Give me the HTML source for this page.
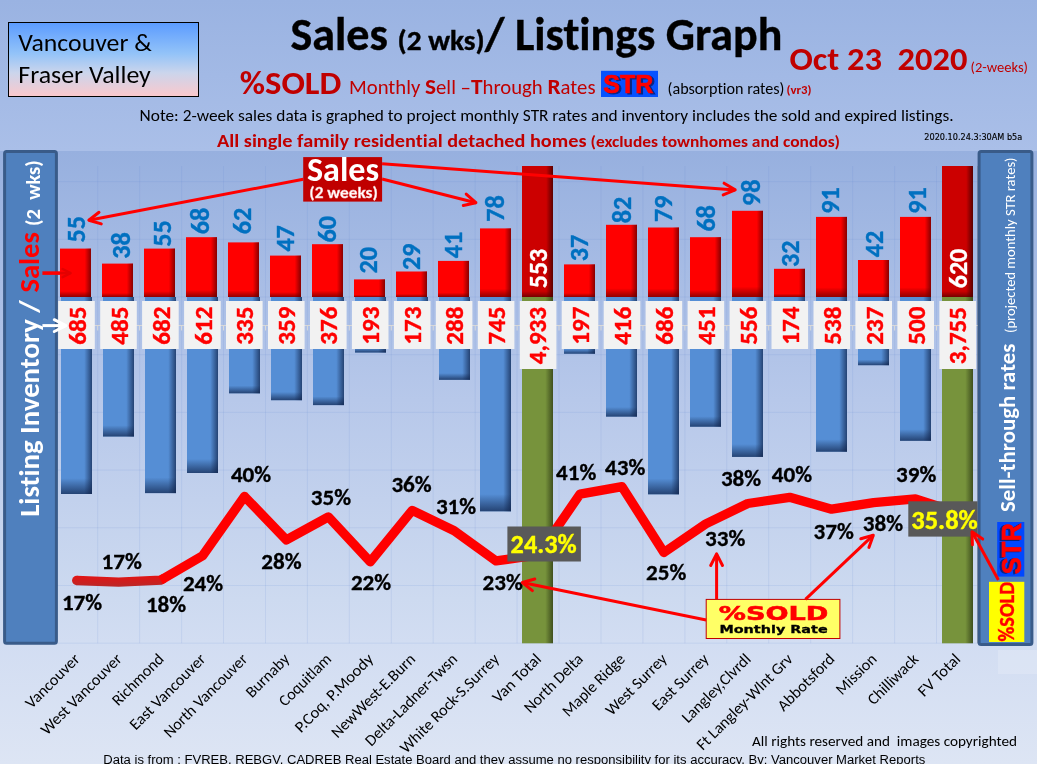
<!DOCTYPE html>
<html><head><meta charset="utf-8"><title>Sales / Listings Graph</title>
<style>
html,body{margin:0;padding:0;background:#9db6e4;}
svg{display:block;}
text{font-variant-ligatures:none;font-feature-settings:'liga' 0,'clig' 0;}
.gl{stroke:#5b84cf;stroke-opacity:0.13;stroke-width:1;}
.il{font-family:Carlito, "Liberation Sans", sans-serif;font-weight:700;font-size:25px;fill:#ff0000;stroke:#ff0000;stroke-width:0.4px;text-anchor:middle;}
.sl{font-family:Carlito, "Liberation Sans", sans-serif;font-weight:700;font-size:26px;fill:#0070c0;stroke:#0070c0;stroke-width:0.4px;}
.tl{font-family:Carlito, "Liberation Sans", sans-serif;font-weight:700;font-size:26px;fill:#ffffff;stroke:#ffffff;stroke-width:0.3px;}
.pl{font-family:Carlito, "Liberation Sans", sans-serif;font-weight:700;font-size:22px;fill:#000;stroke:#000;stroke-width:0.3px;}
.hl{font-family:Carlito, "Liberation Sans", sans-serif;font-weight:700;font-size:25.5px;fill:#ffff00;stroke:#ffff00;stroke-width:0.4px;}
</style></head>
<body>
<svg width="1037" height="764" viewBox="0 0 1037 764">
<defs>
<linearGradient id="gpage" x1="0" y1="0" x2="0" y2="151" gradientUnits="userSpaceOnUse">
 <stop offset="0" stop-color="#9ab3e2"/><stop offset="1" stop-color="#aabfe8"/>
</linearGradient>
<linearGradient id="gbg" x1="0" y1="0" x2="0" y2="1">
 <stop offset="0" stop-color="#97b0df"/><stop offset="0.406" stop-color="#b7c8ea"/><stop offset="0.732" stop-color="#cddaf0"/><stop offset="0.803" stop-color="#d2ddf2"/><stop offset="1" stop-color="#dde5f4"/>
</linearGradient>
<linearGradient id="gredR" x1="0" y1="0" x2="1" y2="0">
 <stop offset="0.8" stop-color="#600000" stop-opacity="0"/><stop offset="1" stop-color="#600000" stop-opacity="0.75"/>
</linearGradient>
<linearGradient id="gredB" x1="0" y1="1" x2="0" y2="0" gradientUnits="objectBoundingBox">
 <stop offset="0" stop-color="#600000" stop-opacity="0.7"/><stop offset="0.12" stop-color="#600000" stop-opacity="0"/>
</linearGradient>
<linearGradient id="gblueR" x1="0" y1="0" x2="1" y2="0">
 <stop offset="0.75" stop-color="#10234a" stop-opacity="0"/><stop offset="1" stop-color="#10234a" stop-opacity="0.7"/>
</linearGradient>
<linearGradient id="gblueB" x1="0" y1="1" x2="0" y2="0">
 <stop offset="0" stop-color="#10234a" stop-opacity="0.7"/><stop offset="0.08" stop-color="#10234a" stop-opacity="0"/>
</linearGradient>
<linearGradient id="gtotB" x1="0" y1="1" x2="0" y2="0">
 <stop offset="0" stop-color="#500000" stop-opacity="0.7"/><stop offset="0.045" stop-color="#500000" stop-opacity="0"/>
</linearGradient>
<linearGradient id="ggreen" x1="0" y1="0" x2="1" y2="0">
 <stop offset="0" stop-color="#77933c"/><stop offset="0.75" stop-color="#77933c"/><stop offset="1" stop-color="#3f4f1e"/>
</linearGradient>
<linearGradient id="gdred" x1="0" y1="0" x2="1" y2="0">
 <stop offset="0" stop-color="#cc0000"/><stop offset="0.78" stop-color="#cc0000"/><stop offset="1" stop-color="#5a0000"/>
</linearGradient>
</defs>
<rect x="0" y="0" width="1037" height="764" fill="url(#gpage)"/>
<rect x="0" y="151" width="1037" height="613" fill="url(#gbg)"/>
<rect x="998" y="650" width="39" height="24" fill="#ffffff" fill-opacity="0.18"/>
<line x1="97.7" y1="166" x2="97.7" y2="643.3" class="gl"/>
<line x1="139.6" y1="166" x2="139.6" y2="643.3" class="gl"/>
<line x1="181.6" y1="166" x2="181.6" y2="643.3" class="gl"/>
<line x1="223.5" y1="166" x2="223.5" y2="643.3" class="gl"/>
<line x1="265.5" y1="166" x2="265.5" y2="643.3" class="gl"/>
<line x1="307.4" y1="166" x2="307.4" y2="643.3" class="gl"/>
<line x1="349.3" y1="166" x2="349.3" y2="643.3" class="gl"/>
<line x1="391.3" y1="166" x2="391.3" y2="643.3" class="gl"/>
<line x1="433.2" y1="166" x2="433.2" y2="643.3" class="gl"/>
<line x1="475.2" y1="166" x2="475.2" y2="643.3" class="gl"/>
<line x1="517.1" y1="166" x2="517.1" y2="643.3" class="gl"/>
<line x1="559.0" y1="166" x2="559.0" y2="643.3" class="gl"/>
<line x1="601.0" y1="166" x2="601.0" y2="643.3" class="gl"/>
<line x1="642.9" y1="166" x2="642.9" y2="643.3" class="gl"/>
<line x1="684.9" y1="166" x2="684.9" y2="643.3" class="gl"/>
<line x1="726.8" y1="166" x2="726.8" y2="643.3" class="gl"/>
<line x1="768.7" y1="166" x2="768.7" y2="643.3" class="gl"/>
<line x1="810.7" y1="166" x2="810.7" y2="643.3" class="gl"/>
<line x1="852.6" y1="166" x2="852.6" y2="643.3" class="gl"/>
<line x1="894.6" y1="166" x2="894.6" y2="643.3" class="gl"/>
<line x1="936.5" y1="166" x2="936.5" y2="643.3" class="gl"/>
<line x1="55.8" y1="181.6" x2="978.4" y2="181.6" class="gl"/>
<line x1="55.8" y1="239.3" x2="978.4" y2="239.3" class="gl"/>
<line x1="55.8" y1="297.0" x2="978.4" y2="297.0" class="gl"/>
<line x1="55.8" y1="354.7" x2="978.4" y2="354.7" class="gl"/>
<line x1="55.8" y1="412.4" x2="978.4" y2="412.4" class="gl"/>
<line x1="55.8" y1="470.1" x2="978.4" y2="470.1" class="gl"/>
<line x1="55.8" y1="527.8" x2="978.4" y2="527.8" class="gl"/>
<line x1="55.8" y1="585.5" x2="978.4" y2="585.5" class="gl"/>
<line x1="55.8" y1="643.2" x2="978.4" y2="643.2" class="gl"/>
<line x1="977.6" y1="166" x2="977.6" y2="643.3" stroke="#8a8f99" stroke-width="1" stroke-opacity="0.7"/>
<g><rect x="61" y="297.0" width="31" height="197.0" fill="#558ed5"/><rect x="61" y="297.0" width="31" height="197.0" fill="url(#gblueR)"/><rect x="61" y="297.0" width="31" height="197.0" fill="url(#gblueB)" /></g>
<g><rect x="60" y="248.6" width="31" height="48.4" fill="#ff0000"/><rect x="60" y="248.6" width="31" height="48.4" fill="url(#gredR)"/><rect x="60" y="248.6" width="31" height="48.4" fill="url(#gredB)"/></g>
<g><rect x="103" y="297.0" width="31" height="139.5" fill="#558ed5"/><rect x="103" y="297.0" width="31" height="139.5" fill="url(#gblueR)"/><rect x="103" y="297.0" width="31" height="139.5" fill="url(#gblueB)" /></g>
<g><rect x="102" y="263.6" width="31" height="33.4" fill="#ff0000"/><rect x="102" y="263.6" width="31" height="33.4" fill="url(#gredR)"/><rect x="102" y="263.6" width="31" height="33.4" fill="url(#gredB)"/></g>
<g><rect x="145" y="297.0" width="31" height="196.1" fill="#558ed5"/><rect x="145" y="297.0" width="31" height="196.1" fill="url(#gblueR)"/><rect x="145" y="297.0" width="31" height="196.1" fill="url(#gblueB)" /></g>
<g><rect x="144" y="248.6" width="31" height="48.4" fill="#ff0000"/><rect x="144" y="248.6" width="31" height="48.4" fill="url(#gredR)"/><rect x="144" y="248.6" width="31" height="48.4" fill="url(#gredB)"/></g>
<g><rect x="187" y="297.0" width="31" height="176.0" fill="#558ed5"/><rect x="187" y="297.0" width="31" height="176.0" fill="url(#gblueR)"/><rect x="187" y="297.0" width="31" height="176.0" fill="url(#gblueB)" /></g>
<g><rect x="186" y="237.2" width="31" height="59.8" fill="#ff0000"/><rect x="186" y="237.2" width="31" height="59.8" fill="url(#gredR)"/><rect x="186" y="237.2" width="31" height="59.8" fill="url(#gredB)"/></g>
<g><rect x="229" y="297.0" width="31" height="96.3" fill="#558ed5"/><rect x="229" y="297.0" width="31" height="96.3" fill="url(#gblueR)"/><rect x="229" y="297.0" width="31" height="96.3" fill="url(#gblueB)" /></g>
<g><rect x="228" y="242.4" width="31" height="54.6" fill="#ff0000"/><rect x="228" y="242.4" width="31" height="54.6" fill="url(#gredR)"/><rect x="228" y="242.4" width="31" height="54.6" fill="url(#gredB)"/></g>
<g><rect x="271" y="297.0" width="31" height="103.2" fill="#558ed5"/><rect x="271" y="297.0" width="31" height="103.2" fill="url(#gblueR)"/><rect x="271" y="297.0" width="31" height="103.2" fill="url(#gblueB)" /></g>
<g><rect x="270" y="255.6" width="31" height="41.4" fill="#ff0000"/><rect x="270" y="255.6" width="31" height="41.4" fill="url(#gredR)"/><rect x="270" y="255.6" width="31" height="41.4" fill="url(#gredB)"/></g>
<g><rect x="313" y="297.0" width="31" height="108.1" fill="#558ed5"/><rect x="313" y="297.0" width="31" height="108.1" fill="url(#gblueR)"/><rect x="313" y="297.0" width="31" height="108.1" fill="url(#gblueB)" /></g>
<g><rect x="312" y="244.2" width="31" height="52.8" fill="#ff0000"/><rect x="312" y="244.2" width="31" height="52.8" fill="url(#gredR)"/><rect x="312" y="244.2" width="31" height="52.8" fill="url(#gredB)"/></g>
<g><rect x="355" y="297.0" width="31" height="55.5" fill="#558ed5"/><rect x="355" y="297.0" width="31" height="55.5" fill="url(#gblueR)"/><rect x="355" y="297.0" width="31" height="55.5" fill="url(#gblueB)" /></g>
<g><rect x="354" y="279.4" width="31" height="17.6" fill="#ff0000"/><rect x="354" y="279.4" width="31" height="17.6" fill="url(#gredR)"/><rect x="354" y="279.4" width="31" height="17.6" fill="url(#gredB)"/></g>
<g><rect x="397" y="297.0" width="31" height="49.8" fill="#558ed5"/><rect x="397" y="297.0" width="31" height="49.8" fill="url(#gblueR)"/><rect x="397" y="297.0" width="31" height="49.8" fill="url(#gblueB)" /></g>
<g><rect x="396" y="271.5" width="31" height="25.5" fill="#ff0000"/><rect x="396" y="271.5" width="31" height="25.5" fill="url(#gredR)"/><rect x="396" y="271.5" width="31" height="25.5" fill="url(#gredB)"/></g>
<g><rect x="439" y="297.0" width="31" height="82.8" fill="#558ed5"/><rect x="439" y="297.0" width="31" height="82.8" fill="url(#gblueR)"/><rect x="439" y="297.0" width="31" height="82.8" fill="url(#gblueB)" /></g>
<g><rect x="438" y="260.9" width="31" height="36.1" fill="#ff0000"/><rect x="438" y="260.9" width="31" height="36.1" fill="url(#gredR)"/><rect x="438" y="260.9" width="31" height="36.1" fill="url(#gredB)"/></g>
<g><rect x="480" y="297.0" width="31" height="214.3" fill="#558ed5"/><rect x="480" y="297.0" width="31" height="214.3" fill="url(#gblueR)"/><rect x="480" y="297.0" width="31" height="214.3" fill="url(#gblueB)" /></g>
<g><rect x="480" y="228.4" width="31" height="68.6" fill="#ff0000"/><rect x="480" y="228.4" width="31" height="68.6" fill="url(#gredR)"/><rect x="480" y="228.4" width="31" height="68.6" fill="url(#gredB)"/></g>
<rect x="522" y="297.0" width="31" height="346.3" fill="url(#ggreen)"/>
<rect x="522" y="166" width="31" height="131.0" fill="url(#gdred)"/>
<rect x="522" y="166" width="31" height="131.0" fill="url(#gtotB)"/>
<g><rect x="564" y="297.0" width="31" height="56.7" fill="#558ed5"/><rect x="564" y="297.0" width="31" height="56.7" fill="url(#gblueR)"/><rect x="564" y="297.0" width="31" height="56.7" fill="url(#gblueB)" /></g>
<g><rect x="564" y="264.4" width="31" height="32.6" fill="#ff0000"/><rect x="564" y="264.4" width="31" height="32.6" fill="url(#gredR)"/><rect x="564" y="264.4" width="31" height="32.6" fill="url(#gredB)"/></g>
<g><rect x="606" y="297.0" width="31" height="119.6" fill="#558ed5"/><rect x="606" y="297.0" width="31" height="119.6" fill="url(#gblueR)"/><rect x="606" y="297.0" width="31" height="119.6" fill="url(#gblueB)" /></g>
<g><rect x="606" y="224.8" width="31" height="72.2" fill="#ff0000"/><rect x="606" y="224.8" width="31" height="72.2" fill="url(#gredR)"/><rect x="606" y="224.8" width="31" height="72.2" fill="url(#gredB)"/></g>
<g><rect x="648" y="297.0" width="31" height="197.3" fill="#558ed5"/><rect x="648" y="297.0" width="31" height="197.3" fill="url(#gblueR)"/><rect x="648" y="297.0" width="31" height="197.3" fill="url(#gblueB)" /></g>
<g><rect x="648" y="227.5" width="31" height="69.5" fill="#ff0000"/><rect x="648" y="227.5" width="31" height="69.5" fill="url(#gredR)"/><rect x="648" y="227.5" width="31" height="69.5" fill="url(#gredB)"/></g>
<g><rect x="690" y="297.0" width="31" height="129.7" fill="#558ed5"/><rect x="690" y="297.0" width="31" height="129.7" fill="url(#gblueR)"/><rect x="690" y="297.0" width="31" height="129.7" fill="url(#gblueB)" /></g>
<g><rect x="690" y="237.2" width="31" height="59.8" fill="#ff0000"/><rect x="690" y="237.2" width="31" height="59.8" fill="url(#gredR)"/><rect x="690" y="237.2" width="31" height="59.8" fill="url(#gredB)"/></g>
<g><rect x="732" y="297.0" width="31" height="159.9" fill="#558ed5"/><rect x="732" y="297.0" width="31" height="159.9" fill="url(#gblueR)"/><rect x="732" y="297.0" width="31" height="159.9" fill="url(#gblueB)" /></g>
<g><rect x="732" y="210.8" width="31" height="86.2" fill="#ff0000"/><rect x="732" y="210.8" width="31" height="86.2" fill="url(#gredR)"/><rect x="732" y="210.8" width="31" height="86.2" fill="url(#gredB)"/></g>
<g><rect x="774" y="297.0" width="31" height="50.0" fill="#558ed5"/><rect x="774" y="297.0" width="31" height="50.0" fill="url(#gblueR)"/><rect x="774" y="297.0" width="31" height="50.0" fill="url(#gblueB)" /></g>
<g><rect x="774" y="268.8" width="31" height="28.2" fill="#ff0000"/><rect x="774" y="268.8" width="31" height="28.2" fill="url(#gredR)"/><rect x="774" y="268.8" width="31" height="28.2" fill="url(#gredB)"/></g>
<g><rect x="816" y="297.0" width="31" height="154.7" fill="#558ed5"/><rect x="816" y="297.0" width="31" height="154.7" fill="url(#gblueR)"/><rect x="816" y="297.0" width="31" height="154.7" fill="url(#gblueB)" /></g>
<g><rect x="816" y="216.9" width="31" height="80.1" fill="#ff0000"/><rect x="816" y="216.9" width="31" height="80.1" fill="url(#gredR)"/><rect x="816" y="216.9" width="31" height="80.1" fill="url(#gredB)"/></g>
<g><rect x="858" y="297.0" width="31" height="68.2" fill="#558ed5"/><rect x="858" y="297.0" width="31" height="68.2" fill="url(#gblueR)"/><rect x="858" y="297.0" width="31" height="68.2" fill="url(#gblueB)" /></g>
<g><rect x="858" y="260.0" width="31" height="37.0" fill="#ff0000"/><rect x="858" y="260.0" width="31" height="37.0" fill="url(#gredR)"/><rect x="858" y="260.0" width="31" height="37.0" fill="url(#gredB)"/></g>
<g><rect x="900" y="297.0" width="31" height="143.8" fill="#558ed5"/><rect x="900" y="297.0" width="31" height="143.8" fill="url(#gblueR)"/><rect x="900" y="297.0" width="31" height="143.8" fill="url(#gblueB)" /></g>
<g><rect x="900" y="216.9" width="31" height="80.1" fill="#ff0000"/><rect x="900" y="216.9" width="31" height="80.1" fill="url(#gredR)"/><rect x="900" y="216.9" width="31" height="80.1" fill="url(#gredB)"/></g>
<rect x="942" y="297.0" width="31" height="346.3" fill="url(#ggreen)"/>
<rect x="942" y="166" width="31" height="131.0" fill="url(#gdred)"/>
<rect x="942" y="166" width="31" height="131.0" fill="url(#gtotB)"/>
<line x1="55.8" y1="325.5" x2="978.4" y2="325.5" stroke="#d9d9d9" stroke-width="1"/>
<line x1="55.8" y1="325.5" x2="55.8" y2="330.5" stroke="#d9d9d9" stroke-width="1"/>
<line x1="97.7" y1="325.5" x2="97.7" y2="330.5" stroke="#d9d9d9" stroke-width="1"/>
<line x1="139.6" y1="325.5" x2="139.6" y2="330.5" stroke="#d9d9d9" stroke-width="1"/>
<line x1="181.6" y1="325.5" x2="181.6" y2="330.5" stroke="#d9d9d9" stroke-width="1"/>
<line x1="223.5" y1="325.5" x2="223.5" y2="330.5" stroke="#d9d9d9" stroke-width="1"/>
<line x1="265.5" y1="325.5" x2="265.5" y2="330.5" stroke="#d9d9d9" stroke-width="1"/>
<line x1="307.4" y1="325.5" x2="307.4" y2="330.5" stroke="#d9d9d9" stroke-width="1"/>
<line x1="349.3" y1="325.5" x2="349.3" y2="330.5" stroke="#d9d9d9" stroke-width="1"/>
<line x1="391.3" y1="325.5" x2="391.3" y2="330.5" stroke="#d9d9d9" stroke-width="1"/>
<line x1="433.2" y1="325.5" x2="433.2" y2="330.5" stroke="#d9d9d9" stroke-width="1"/>
<line x1="475.2" y1="325.5" x2="475.2" y2="330.5" stroke="#d9d9d9" stroke-width="1"/>
<line x1="517.1" y1="325.5" x2="517.1" y2="330.5" stroke="#d9d9d9" stroke-width="1"/>
<line x1="559.0" y1="325.5" x2="559.0" y2="330.5" stroke="#d9d9d9" stroke-width="1"/>
<line x1="601.0" y1="325.5" x2="601.0" y2="330.5" stroke="#d9d9d9" stroke-width="1"/>
<line x1="642.9" y1="325.5" x2="642.9" y2="330.5" stroke="#d9d9d9" stroke-width="1"/>
<line x1="684.9" y1="325.5" x2="684.9" y2="330.5" stroke="#d9d9d9" stroke-width="1"/>
<line x1="726.8" y1="325.5" x2="726.8" y2="330.5" stroke="#d9d9d9" stroke-width="1"/>
<line x1="768.7" y1="325.5" x2="768.7" y2="330.5" stroke="#d9d9d9" stroke-width="1"/>
<line x1="810.7" y1="325.5" x2="810.7" y2="330.5" stroke="#d9d9d9" stroke-width="1"/>
<line x1="852.6" y1="325.5" x2="852.6" y2="330.5" stroke="#d9d9d9" stroke-width="1"/>
<line x1="894.6" y1="325.5" x2="894.6" y2="330.5" stroke="#d9d9d9" stroke-width="1"/>
<line x1="936.5" y1="325.5" x2="936.5" y2="330.5" stroke="#d9d9d9" stroke-width="1"/>
<line x1="978.4" y1="325.5" x2="978.4" y2="330.5" stroke="#d9d9d9" stroke-width="1"/>
<rect x="58.2" y="301" width="36.6" height="48" fill="#f2f2f2"/>
<text transform="translate(85.6,325.7) rotate(-90)" class="il" textLength="38.0" lengthAdjust="spacingAndGlyphs">685</text>
<rect x="100.2" y="301" width="36.6" height="48" fill="#f2f2f2"/>
<text transform="translate(127.6,325.7) rotate(-90)" class="il" textLength="38.0" lengthAdjust="spacingAndGlyphs">485</text>
<rect x="142.1" y="301" width="36.6" height="48" fill="#f2f2f2"/>
<text transform="translate(169.5,325.7) rotate(-90)" class="il" textLength="38.0" lengthAdjust="spacingAndGlyphs">682</text>
<rect x="184.1" y="301" width="36.6" height="48" fill="#f2f2f2"/>
<text transform="translate(211.5,325.7) rotate(-90)" class="il" textLength="38.0" lengthAdjust="spacingAndGlyphs">612</text>
<rect x="226.0" y="301" width="36.6" height="48" fill="#f2f2f2"/>
<text transform="translate(253.4,325.7) rotate(-90)" class="il" textLength="38.0" lengthAdjust="spacingAndGlyphs">335</text>
<rect x="268.0" y="301" width="36.6" height="48" fill="#f2f2f2"/>
<text transform="translate(295.4,325.7) rotate(-90)" class="il" textLength="38.0" lengthAdjust="spacingAndGlyphs">359</text>
<rect x="310.0" y="301" width="36.6" height="48" fill="#f2f2f2"/>
<text transform="translate(337.4,325.7) rotate(-90)" class="il" textLength="38.0" lengthAdjust="spacingAndGlyphs">376</text>
<rect x="351.9" y="301" width="36.6" height="48" fill="#f2f2f2"/>
<text transform="translate(379.3,325.7) rotate(-90)" class="il" textLength="38.0" lengthAdjust="spacingAndGlyphs">193</text>
<rect x="393.9" y="301" width="36.6" height="48" fill="#f2f2f2"/>
<text transform="translate(421.3,325.7) rotate(-90)" class="il" textLength="38.0" lengthAdjust="spacingAndGlyphs">173</text>
<rect x="435.8" y="301" width="36.6" height="48" fill="#f2f2f2"/>
<text transform="translate(463.2,325.7) rotate(-90)" class="il" textLength="38.0" lengthAdjust="spacingAndGlyphs">288</text>
<rect x="477.8" y="301" width="36.6" height="48" fill="#f2f2f2"/>
<text transform="translate(505.2,325.7) rotate(-90)" class="il" textLength="38.0" lengthAdjust="spacingAndGlyphs">745</text>
<rect x="519.8" y="301" width="36.6" height="68" fill="#f2f2f2"/>
<text transform="translate(546.4,335.6) rotate(-90)" class="il" textLength="57.1" lengthAdjust="spacingAndGlyphs">4,933</text>
<rect x="561.7" y="301" width="36.6" height="48" fill="#f2f2f2"/>
<text transform="translate(589.1,325.7) rotate(-90)" class="il" textLength="38.0" lengthAdjust="spacingAndGlyphs">197</text>
<rect x="603.7" y="301" width="36.6" height="48" fill="#f2f2f2"/>
<text transform="translate(631.1,325.7) rotate(-90)" class="il" textLength="38.0" lengthAdjust="spacingAndGlyphs">416</text>
<rect x="645.6" y="301" width="36.6" height="48" fill="#f2f2f2"/>
<text transform="translate(673.0,325.7) rotate(-90)" class="il" textLength="38.0" lengthAdjust="spacingAndGlyphs">686</text>
<rect x="687.6" y="301" width="36.6" height="48" fill="#f2f2f2"/>
<text transform="translate(715.0,325.7) rotate(-90)" class="il" textLength="38.0" lengthAdjust="spacingAndGlyphs">451</text>
<rect x="729.6" y="301" width="36.6" height="48" fill="#f2f2f2"/>
<text transform="translate(757.0,325.7) rotate(-90)" class="il" textLength="38.0" lengthAdjust="spacingAndGlyphs">556</text>
<rect x="771.5" y="301" width="36.6" height="48" fill="#f2f2f2"/>
<text transform="translate(798.9,325.7) rotate(-90)" class="il" textLength="38.0" lengthAdjust="spacingAndGlyphs">174</text>
<rect x="813.5" y="301" width="36.6" height="48" fill="#f2f2f2"/>
<text transform="translate(840.9,325.7) rotate(-90)" class="il" textLength="38.0" lengthAdjust="spacingAndGlyphs">538</text>
<rect x="855.4" y="301" width="36.6" height="48" fill="#f2f2f2"/>
<text transform="translate(882.8,325.7) rotate(-90)" class="il" textLength="38.0" lengthAdjust="spacingAndGlyphs">237</text>
<rect x="897.4" y="301" width="36.6" height="48" fill="#f2f2f2"/>
<text transform="translate(924.8,325.7) rotate(-90)" class="il" textLength="38.0" lengthAdjust="spacingAndGlyphs">500</text>
<rect x="939.4" y="301" width="36.6" height="68" fill="#f2f2f2"/>
<text transform="translate(966.0,335.6) rotate(-90)" class="il" textLength="57.1" lengthAdjust="spacingAndGlyphs">3,755</text>
<text transform="translate(84.7,242.5) rotate(-90)" class="sl" textLength="26.4" lengthAdjust="spacingAndGlyphs">55</text>
<text transform="translate(129.5,258.7) rotate(-90)" class="sl" textLength="26.4" lengthAdjust="spacingAndGlyphs">38</text>
<text transform="translate(170.9,246.8) rotate(-90)" class="sl" textLength="26.4" lengthAdjust="spacingAndGlyphs">55</text>
<text transform="translate(208.9,234.2) rotate(-90)" class="sl" textLength="26.4" lengthAdjust="spacingAndGlyphs">68</text>
<text transform="translate(251.0,234.2) rotate(-90)" class="sl" textLength="26.4" lengthAdjust="spacingAndGlyphs">62</text>
<text transform="translate(294.4,251.6) rotate(-90)" class="sl" textLength="26.4" lengthAdjust="spacingAndGlyphs">47</text>
<text transform="translate(336.2,242.5) rotate(-90)" class="sl" textLength="26.4" lengthAdjust="spacingAndGlyphs">60</text>
<text transform="translate(377.3,273.4) rotate(-90)" class="sl" textLength="26.4" lengthAdjust="spacingAndGlyphs">20</text>
<text transform="translate(420.1,269.9) rotate(-90)" class="sl" textLength="26.4" lengthAdjust="spacingAndGlyphs">29</text>
<text transform="translate(462.0,258.3) rotate(-90)" class="sl" textLength="26.4" lengthAdjust="spacingAndGlyphs">41</text>
<text transform="translate(503.5,221.7) rotate(-90)" class="sl" textLength="26.4" lengthAdjust="spacingAndGlyphs">78</text>
<text transform="translate(547.3,288.2) rotate(-90)" class="tl" textLength="39.5" lengthAdjust="spacingAndGlyphs">553</text>
<text transform="translate(587.8,261.2) rotate(-90)" class="sl" textLength="26.4" lengthAdjust="spacingAndGlyphs">37</text>
<text transform="translate(631.1,223.3) rotate(-90)" class="sl" textLength="26.4" lengthAdjust="spacingAndGlyphs">82</text>
<text transform="translate(672.1,222.0) rotate(-90)" class="sl" textLength="26.4" lengthAdjust="spacingAndGlyphs">79</text>
<text transform="translate(715.3,231.6) rotate(-90)" class="sl" textLength="26.4" lengthAdjust="spacingAndGlyphs">68</text>
<text transform="translate(759.7,205.9) rotate(-90)" class="sl" textLength="26.4" lengthAdjust="spacingAndGlyphs">98</text>
<text transform="translate(798.6,266.9) rotate(-90)" class="sl" textLength="26.4" lengthAdjust="spacingAndGlyphs">32</text>
<text transform="translate(838.7,213.7) rotate(-90)" class="sl" textLength="26.4" lengthAdjust="spacingAndGlyphs">91</text>
<text transform="translate(882.6,257.2) rotate(-90)" class="sl" textLength="26.4" lengthAdjust="spacingAndGlyphs">42</text>
<text transform="translate(925.8,213.7) rotate(-90)" class="sl" textLength="26.4" lengthAdjust="spacingAndGlyphs">91</text>
<text transform="translate(967.3,288.2) rotate(-90)" class="tl" textLength="39.5" lengthAdjust="spacingAndGlyphs">620</text>
<defs><linearGradient id="gline" x1="0" y1="574" x2="0" y2="587" gradientUnits="userSpaceOnUse"><stop offset="0" stop-color="#ea1010"/><stop offset="1" stop-color="#b82828"/></linearGradient></defs>
<polyline points="76.7,580.5 118.7,582.1 160.6,580.2 164.0,578.3" fill="none" stroke="url(#gline)" stroke-width="9.3" stroke-linejoin="miter" stroke-linecap="butt"/>
<circle cx="76.7" cy="580.5" r="4.65" fill="url(#gline)"/>
<polyline points="160.6,580.2 202.6,555.8 244.5,496.4 286.4,539.9 328.4,516.9 370.3,561.8 412.2,510.4 454.2,530.7 496.1,560.9 538.1,555.0 580.0,494.2 622.0,486.7 663.9,552.5 705.8,523.9 747.8,503.5 789.7,497.3 831.6,509.2 873.6,502.7 915.5,498.9 957.5,512.4" fill="none" stroke="#ff0000" stroke-width="9.3" stroke-linejoin="round"/>
<text x="61.9" y="610.3" class="pl" textLength="40.3" lengthAdjust="spacingAndGlyphs">17%</text>
<text x="101.5" y="568.6" class="pl" textLength="40.3" lengthAdjust="spacingAndGlyphs">17%</text>
<text x="145.9" y="611.5" class="pl" textLength="40.3" lengthAdjust="spacingAndGlyphs">18%</text>
<text x="182.9" y="590.6" class="pl" textLength="40.3" lengthAdjust="spacingAndGlyphs">24%</text>
<text x="230.9" y="481.9" class="pl" textLength="40.3" lengthAdjust="spacingAndGlyphs">40%</text>
<text x="261.2" y="568.6" class="pl" textLength="40.3" lengthAdjust="spacingAndGlyphs">28%</text>
<text x="310.7" y="505.4" class="pl" textLength="40.3" lengthAdjust="spacingAndGlyphs">35%</text>
<text x="350.9" y="590.4" class="pl" textLength="40.3" lengthAdjust="spacingAndGlyphs">22%</text>
<text x="391.4" y="492.4" class="pl" textLength="40.3" lengthAdjust="spacingAndGlyphs">36%</text>
<text x="435.9" y="514.3" class="pl" textLength="40.3" lengthAdjust="spacingAndGlyphs">31%</text>
<text x="482.6" y="589.6" class="pl" textLength="40.3" lengthAdjust="spacingAndGlyphs">23%</text>
<text x="556.1" y="479.5" class="pl" textLength="40.3" lengthAdjust="spacingAndGlyphs">41%</text>
<text x="605.1" y="475.2" class="pl" textLength="40.3" lengthAdjust="spacingAndGlyphs">43%</text>
<text x="646.1" y="579.8" class="pl" textLength="40.3" lengthAdjust="spacingAndGlyphs">25%</text>
<text x="705.1" y="545.9" class="pl" textLength="40.3" lengthAdjust="spacingAndGlyphs">33%</text>
<text x="720.9" y="485.7" class="pl" textLength="40.3" lengthAdjust="spacingAndGlyphs">38%</text>
<text x="771.8" y="482.3" class="pl" textLength="40.3" lengthAdjust="spacingAndGlyphs">40%</text>
<text x="813.5" y="539.0" class="pl" textLength="40.3" lengthAdjust="spacingAndGlyphs">37%</text>
<text x="862.8" y="530.9" class="pl" textLength="40.3" lengthAdjust="spacingAndGlyphs">38%</text>
<text x="896.1" y="482.3" class="pl" textLength="40.3" lengthAdjust="spacingAndGlyphs">39%</text>
<rect x="507.4" y="526.5" width="73.5" height="35" fill="#595959"/>
<text x="510.6" y="552.8" class="hl" textLength="66" lengthAdjust="spacingAndGlyphs">24.3%</text>
<rect x="908.3" y="501.3" width="69.3" height="35.3" fill="#595959"/>
<text x="911.3" y="528.6" class="hl" textLength="66.5" lengthAdjust="spacingAndGlyphs">35.8%</text>
<rect x="303.2" y="157.1" width="78.9" height="44.5" fill="#c00000"/>
<text x="307" y="181" font-family='Carlito, "Liberation Sans", sans-serif' font-weight="700" font-size="34" fill="#fff" textLength="72" lengthAdjust="spacingAndGlyphs">Sales</text>
<text x="309.3" y="197.6" font-family='Carlito, "Liberation Sans", sans-serif' font-weight="700" font-size="16" fill="#fff" stroke="#f6c0c0" stroke-width="0.4" textLength="68.5" lengthAdjust="spacingAndGlyphs">(2 weeks)</text>
<line x1="303.2" y1="179.3" x2="88.8" y2="220.2" stroke="#ff0000" stroke-width="3"/><polyline points="99.0,212.3 88.8,220.2 101.3,223.9" fill="none" stroke="#ff0000" stroke-width="3" stroke-linejoin="round" stroke-linecap="round"/>
<line x1="382.1" y1="179.0" x2="475.9" y2="202.7" stroke="#ff0000" stroke-width="3"/><polyline points="463.3,205.5 475.9,202.7 466.2,194.1" fill="none" stroke="#ff0000" stroke-width="3" stroke-linejoin="round" stroke-linecap="round"/>
<line x1="382.1" y1="163.8" x2="735.2" y2="189.9" stroke="#ff0000" stroke-width="3"/><polyline points="723.2,194.9 735.2,189.9 724.1,183.2" fill="none" stroke="#ff0000" stroke-width="3" stroke-linejoin="round" stroke-linecap="round"/>
<rect x="706.2" y="599.4" width="133.7" height="39.1" fill="#ffff66" stroke="#c00000" stroke-width="1"/>
<text x="718.8" y="619.6" font-family='"DejaVu Sans", sans-serif' font-weight="700" font-size="20" fill="#ff0000" stroke="#ff0000" stroke-width="0.6" textLength="109.5" lengthAdjust="spacingAndGlyphs">%SOLD</text>
<text x="719.4" y="633" font-family='"DejaVu Sans", sans-serif' font-weight="700" font-size="10.5" fill="#000" stroke="#000" stroke-width="0.3" textLength="108.3" lengthAdjust="spacingAndGlyphs">Monthly Rate</text>
<rect x="4.6" y="151.6" width="51.8" height="491.6" rx="2" fill="#4f80be" stroke="#395b89" stroke-width="3"/>
<text transform="translate(39.2,516.8) rotate(-90)" font-family='Carlito, "Liberation Sans", sans-serif' font-weight="700" font-size="28" fill="#fff" textLength="216.5" lengthAdjust="spacingAndGlyphs">Listing Inventory /</text>
<text transform="translate(39.2,292.6) rotate(-90)" font-family='Carlito, "Liberation Sans", sans-serif' font-weight="700" font-size="28" fill="#ff0000" textLength="60.5" lengthAdjust="spacingAndGlyphs">Sales</text>
<text transform="translate(39.6,225.9) rotate(-90)" font-family='Carlito, "Liberation Sans", sans-serif' font-weight="700" font-size="20" fill="#fff" textLength="65.6" lengthAdjust="spacingAndGlyphs" xml:space="preserve">(2  wks)</text>
<line x1="42.4" y1="273.1" x2="62" y2="273.1" stroke="#ff0000" stroke-width="3.6"/>
<line x1="60.0" y1="273.1" x2="70.6" y2="273.1" stroke="#e40000" stroke-width="2.5"/><polyline points="62.6,277.2 70.6,273.1 62.6,269.0" fill="none" stroke="#e40000" stroke-width="2.5" stroke-linejoin="round" stroke-linecap="round"/>
<line x1="42.4" y1="325.6" x2="65.9" y2="325.6" stroke="#ffffff" stroke-width="3"/><polyline points="54.3,331.5 65.9,325.6 54.3,319.7" fill="none" stroke="#ffffff" stroke-width="3" stroke-linejoin="round" stroke-linecap="round"/>
<rect x="979.1" y="151.6" width="52.8" height="493" rx="2" fill="#4f80be" stroke="#395b89" stroke-width="3"/>
<text transform="translate(1014.8,512) rotate(-90)" font-family='Carlito, "Liberation Sans", sans-serif' font-weight="700" font-size="22.5" fill="#fff" textLength="168.5" lengthAdjust="spacingAndGlyphs">Sell-through rates</text>
<text transform="translate(1014.7,333) rotate(-90)" font-family='Carlito, "Liberation Sans", sans-serif' font-size="14.4" fill="#fff" textLength="175.5" lengthAdjust="spacingAndGlyphs">(projected monthly STR rates)</text>
<rect x="997.2" y="522" width="27.1" height="54.6" fill="#0047ff"/>
<text transform="translate(1018.6,574.8) rotate(-90)" font-family='"Liberation Sans", Arial, sans-serif' font-weight="700" font-size="27.5" fill="#0a1f6e" stroke="#0a1f6e" stroke-width="1" opacity="0.85" textLength="51" lengthAdjust="spacingAndGlyphs">STR</text>
<text transform="translate(1020.8,574.2) rotate(-90)" font-family='"Liberation Sans", Arial, sans-serif' font-weight="700" font-size="27.5" fill="#ff0000" stroke="#ff0000" stroke-width="0.7" textLength="51" lengthAdjust="spacingAndGlyphs">STR</text>
<rect x="989" y="581.8" width="35.3" height="60.2" fill="#ffff00"/>
<text transform="translate(1013.8,641.5) rotate(-90)" font-family='Carlito, "Liberation Sans", sans-serif' font-weight="700" font-size="21.5" fill="#ff0000" stroke="#ff0000" stroke-width="0.4" textLength="59.5" lengthAdjust="spacingAndGlyphs">%SOLD</text>
<defs><linearGradient id="gvf" x1="0" y1="0" x2="0" y2="1"><stop offset="0" stop-color="#5b9bff"/><stop offset="0.42" stop-color="#93c3f8"/><stop offset="0.68" stop-color="#cbd5ec"/><stop offset="1" stop-color="#fbc8cc"/></linearGradient></defs>
<rect x="8.5" y="22.5" width="190" height="74" fill="url(#gvf)" stroke="#000" stroke-width="1"/>
<text x="18.3" y="50.8" font-family='Carlito, "Liberation Sans", sans-serif' font-size="24.5" font-weight="400" fill="#000" textLength="133.5" lengthAdjust="spacingAndGlyphs"  xml:space="preserve">Vancouver &amp;</text>
<text x="18.3" y="83.3" font-family='Carlito, "Liberation Sans", sans-serif' font-size="24.5" font-weight="400" fill="#000" textLength="132.5" lengthAdjust="spacingAndGlyphs"  xml:space="preserve">Fraser Valley</text>
<text x="290.4" y="50.3" font-family='Carlito, "Liberation Sans", sans-serif' font-size="46" font-weight="700" fill="#000" textLength="97.5" lengthAdjust="spacingAndGlyphs" stroke="#000" stroke-width="0.4" xml:space="preserve">Sales</text>
<text x="397.6" y="50.3" font-family='Carlito, "Liberation Sans", sans-serif' font-size="28" font-weight="700" fill="#000" textLength="87" lengthAdjust="spacingAndGlyphs" stroke="#000" stroke-width="0.4" xml:space="preserve">(2 wks)</text>
<text x="484.8" y="50.3" font-family='Carlito, "Liberation Sans", sans-serif' font-size="46" font-weight="700" fill="#000" textLength="297.5" lengthAdjust="spacingAndGlyphs" stroke="#000" stroke-width="0.4" xml:space="preserve">/ Listings Graph</text>
<text x="789.5" y="70.4" font-family='Carlito, "Liberation Sans", sans-serif' font-size="33" font-weight="700" fill="#c00000" textLength="178" lengthAdjust="spacingAndGlyphs"  xml:space="preserve">Oct 23  2020</text>
<text x="970.5" y="71.5" font-family='Carlito, "Liberation Sans", sans-serif' font-size="14.5" font-weight="400" fill="#c00000" textLength="57.5" lengthAdjust="spacingAndGlyphs"  xml:space="preserve">(2-weeks)</text>
<text x="239.8" y="93.8" font-family='Carlito, "Liberation Sans", sans-serif' font-size="32" font-weight="700" fill="#c00000" textLength="101.5" lengthAdjust="spacingAndGlyphs"  xml:space="preserve">%SOLD</text>
<text x="349" y="93.8" font-family='Carlito, "Liberation Sans", sans-serif' font-size="19.5" fill="#c00000" textLength="246.5" lengthAdjust="spacingAndGlyphs">Monthly <tspan font-weight="700" font-size="22">S</tspan>ell –<tspan font-weight="700" font-size="22">T</tspan>hrough <tspan font-weight="700" font-size="22">R</tspan>ates</text>
<rect x="601" y="70.8" width="57" height="26.2" fill="#0652ff"/>
<text x="630.3" y="94" text-anchor="middle" font-family='"Liberation Sans", Arial, sans-serif' font-weight="700" font-size="25" fill="#0a1f6e" stroke="#0a1f6e" stroke-width="1" opacity="0.85">STR</text>
<text x="628.3" y="93" text-anchor="middle" font-family='"Liberation Sans", Arial, sans-serif' font-weight="700" font-size="25" fill="#ff0000" stroke="#ff0000" stroke-width="0.7">STR</text>
<text x="667.5" y="93.5" font-family='Carlito, "Liberation Sans", sans-serif' font-size="17" font-weight="400" fill="#000" textLength="117" lengthAdjust="spacingAndGlyphs"  xml:space="preserve">(absorption rates)</text>
<text x="786.5" y="93.5" font-family='Carlito, "Liberation Sans", sans-serif' font-size="12.5" font-weight="700" fill="#c00000" textLength="25" lengthAdjust="spacingAndGlyphs"  xml:space="preserve">(vr3)</text>
<text x="139.6" y="120.8" font-family='Carlito, "Liberation Sans", sans-serif' font-size="17" font-weight="400" fill="#000" textLength="814" lengthAdjust="spacingAndGlyphs"  xml:space="preserve">Note: 2-week sales data is graphed to project monthly STR rates and inventory includes the sold and expired listings.</text>
<text x="217" y="146.9" font-family='Carlito, "Liberation Sans", sans-serif' font-size="18.8" font-weight="700" fill="#c00000" textLength="369.5" lengthAdjust="spacingAndGlyphs"  xml:space="preserve">All single family residential detached homes</text>
<text x="590.5" y="146.6" font-family='Carlito, "Liberation Sans", sans-serif' font-size="16" font-weight="700" fill="#c00000" textLength="249.5" lengthAdjust="spacingAndGlyphs"  xml:space="preserve">(excludes townhomes and condos)</text>
<text x="924.3" y="139.8" font-family='"DejaVu Sans", sans-serif' font-size="8.2" font-weight="400" fill="#000" textLength="98" lengthAdjust="spacingAndGlyphs" stroke="#000" stroke-width="0.15" xml:space="preserve">2020.10.24.3:30AM b5a</text>
<text transform="translate(80.7,660) rotate(-45)" text-anchor="end" font-family='Carlito, "Liberation Sans", sans-serif' font-size="16" fill="#000" textLength="69.5" lengthAdjust="spacingAndGlyphs">Vancouver</text>
<text transform="translate(122.7,660) rotate(-45)" text-anchor="end" font-family='Carlito, "Liberation Sans", sans-serif' font-size="16" fill="#000" textLength="107.0" lengthAdjust="spacingAndGlyphs">West Vancouver</text>
<text transform="translate(164.6,660) rotate(-45)" text-anchor="end" font-family='Carlito, "Liberation Sans", sans-serif' font-size="16" fill="#000" textLength="65.6" lengthAdjust="spacingAndGlyphs">Richmond</text>
<text transform="translate(206.6,660) rotate(-45)" text-anchor="end" font-family='Carlito, "Liberation Sans", sans-serif' font-size="16" fill="#000" textLength="100.2" lengthAdjust="spacingAndGlyphs">East Vancouver</text>
<text transform="translate(248.5,660) rotate(-45)" text-anchor="end" font-family='Carlito, "Liberation Sans", sans-serif' font-size="16" fill="#000" textLength="111.2" lengthAdjust="spacingAndGlyphs">North Vancouver</text>
<text transform="translate(290.4,660) rotate(-45)" text-anchor="end" font-family='Carlito, "Liberation Sans", sans-serif' font-size="16" fill="#000" textLength="54.4" lengthAdjust="spacingAndGlyphs">Burnaby</text>
<text transform="translate(332.4,660) rotate(-45)" text-anchor="end" font-family='Carlito, "Liberation Sans", sans-serif' font-size="16" fill="#000" textLength="66.9" lengthAdjust="spacingAndGlyphs">Coquitlam</text>
<text transform="translate(374.3,660) rotate(-45)" text-anchor="end" font-family='Carlito, "Liberation Sans", sans-serif' font-size="16" fill="#000" textLength="103.8" lengthAdjust="spacingAndGlyphs">P.Coq, P.Moody</text>
<text transform="translate(416.2,660) rotate(-45)" text-anchor="end" font-family='Carlito, "Liberation Sans", sans-serif' font-size="16" fill="#000" textLength="111.4" lengthAdjust="spacingAndGlyphs">NewWest-E.Burn</text>
<text transform="translate(458.2,660) rotate(-45)" text-anchor="end" font-family='Carlito, "Liberation Sans", sans-serif' font-size="16" fill="#000" textLength="122.9" lengthAdjust="spacingAndGlyphs">Delta-Ladner-Twsn</text>
<text transform="translate(500.1,660) rotate(-45)" text-anchor="end" font-family='Carlito, "Liberation Sans", sans-serif' font-size="16" fill="#000" textLength="132.8" lengthAdjust="spacingAndGlyphs">White Rock-S.Surrey</text>
<text transform="translate(542.1,660) rotate(-45)" text-anchor="end" font-family='Carlito, "Liberation Sans", sans-serif' font-size="16" fill="#000" textLength="61.7" lengthAdjust="spacingAndGlyphs">Van Total</text>
<text transform="translate(584.0,660) rotate(-45)" text-anchor="end" font-family='Carlito, "Liberation Sans", sans-serif' font-size="16" fill="#000" textLength="76.2" lengthAdjust="spacingAndGlyphs">North Delta</text>
<text transform="translate(626.0,660) rotate(-45)" text-anchor="end" font-family='Carlito, "Liberation Sans", sans-serif' font-size="16" fill="#000" textLength="81.3" lengthAdjust="spacingAndGlyphs">Maple Ridge</text>
<text transform="translate(667.9,660) rotate(-45)" text-anchor="end" font-family='Carlito, "Liberation Sans", sans-serif' font-size="16" fill="#000" textLength="79.5" lengthAdjust="spacingAndGlyphs">West Surrey</text>
<text transform="translate(709.8,660) rotate(-45)" text-anchor="end" font-family='Carlito, "Liberation Sans", sans-serif' font-size="16" fill="#000" textLength="72.8" lengthAdjust="spacingAndGlyphs">East Surrey</text>
<text transform="translate(751.8,660) rotate(-45)" text-anchor="end" font-family='Carlito, "Liberation Sans", sans-serif' font-size="16" fill="#000" textLength="90.3" lengthAdjust="spacingAndGlyphs">Langley,Clvrdl</text>
<text transform="translate(793.7,660) rotate(-45)" text-anchor="end" font-family='Carlito, "Liberation Sans", sans-serif' font-size="16" fill="#000" textLength="128.6" lengthAdjust="spacingAndGlyphs">Ft Langley-Wlnt Grv</text>
<text transform="translate(835.6,660) rotate(-45)" text-anchor="end" font-family='Carlito, "Liberation Sans", sans-serif' font-size="16" fill="#000" textLength="73.4" lengthAdjust="spacingAndGlyphs">Abbotsford</text>
<text transform="translate(877.6,660) rotate(-45)" text-anchor="end" font-family='Carlito, "Liberation Sans", sans-serif' font-size="16" fill="#000" textLength="50.4" lengthAdjust="spacingAndGlyphs">Mission</text>
<text transform="translate(919.5,660) rotate(-45)" text-anchor="end" font-family='Carlito, "Liberation Sans", sans-serif' font-size="16" fill="#000" textLength="64.8" lengthAdjust="spacingAndGlyphs">Chilliwack</text>
<text transform="translate(961.5,660) rotate(-45)" text-anchor="end" font-family='Carlito, "Liberation Sans", sans-serif' font-size="16" fill="#000" textLength="53.0" lengthAdjust="spacingAndGlyphs">FV Total</text>
<text x="752" y="746" font-family='Carlito, "Liberation Sans", sans-serif' font-size="15" font-weight="400" fill="#000" textLength="265" lengthAdjust="spacingAndGlyphs"  xml:space="preserve">All rights reserved and  images copyrighted</text>
<text x="103.3" y="764" font-family='"Liberation Sans", Arial, sans-serif' font-size="12.5" font-weight="400" fill="#000" textLength="822" lengthAdjust="spacingAndGlyphs"  xml:space="preserve">Data is from : FVREB, REBGV, CADREB Real Estate Board and they assume no responsibility for its accuracy. By: Vancouver Market Reports</text>
<line x1="706.2" y1="620.0" x2="522.3" y2="582.5" stroke="#ff0000" stroke-width="3"/><polyline points="534.8,579.0 522.3,582.5 532.4,590.6" fill="none" stroke="#ff0000" stroke-width="3" stroke-linejoin="round" stroke-linecap="round"/>
<line x1="716.6" y1="599.0" x2="716.6" y2="553.9" stroke="#ff0000" stroke-width="3"/><polyline points="722.5,565.5 716.6,553.9 710.7,565.5" fill="none" stroke="#ff0000" stroke-width="3" stroke-linejoin="round" stroke-linecap="round"/>
<line x1="805.4" y1="599.4" x2="873.3" y2="535.2" stroke="#ff0000" stroke-width="3"/><polyline points="868.9,547.4 873.3,535.2 860.8,538.8" fill="none" stroke="#ff0000" stroke-width="3" stroke-linejoin="round" stroke-linecap="round"/>
<line x1="998.4" y1="580.0" x2="972.0" y2="531.8" stroke="#ff0000" stroke-width="3"/><polyline points="982.7,539.1 972.0,531.8 972.4,544.8" fill="none" stroke="#ff0000" stroke-width="3" stroke-linejoin="round" stroke-linecap="round"/>
</svg>
</body></html>
